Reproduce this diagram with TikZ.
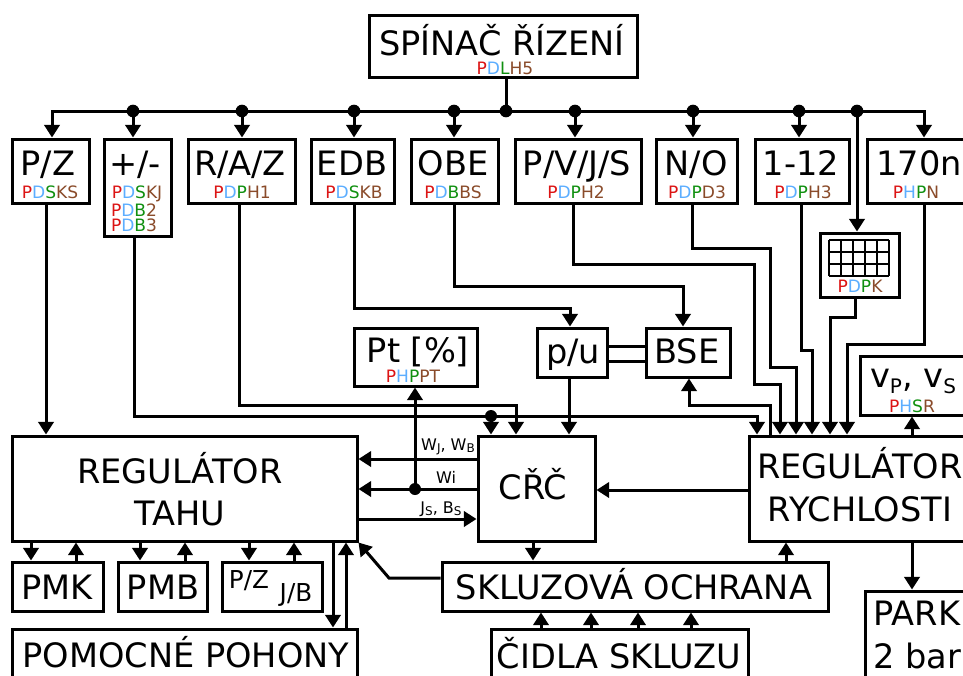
\documentclass[tikz,border=0pt]{standalone}
\usepackage{fontspec}
\setmainfont{DejaVu Sans}
\usetikzlibrary{arrows.meta}
\definecolor{cr}{HTML}{DC1414}
\definecolor{cb}{HTML}{5CAEFF}
\definecolor{cg}{HTML}{109010}
\definecolor{cn}{HTML}{8A4B2A}
\newdimen\pxu \pxu=.75pt
\newcommand\cd[4]{{\fontsize{12.8}{15}\selectfont\textcolor{cr}{#1}\textcolor{cb}{#2}\textcolor{cg}{#3}\textcolor{cn}{#4}}}
\newcommand\txl[3]{\makebox[0pt]{\hspace*{2\dimexpr#1\pxu-\cxx\pxu\relax}\raisebox{\dimexpr\cyy\pxu-#2\pxu\relax}[0pt][0pt]{#3}}}
\newcommand\bx[7][box]{%
  \pgfmathsetmacro\cxx{(#3+#5)/2}\pgfmathsetmacro\cyy{(#4+#6)/2}%
  \pgfmathsetmacro\bxw{#5-#3}\pgfmathsetmacro\bxh{#6-#4}%
  \node[#1,minimum width=\bxw*0.75pt,minimum height=\bxh*0.75pt] (#2) at (\cxx,\cyy) {#7};}
\newcommand\midt[1]{{\fontsize{18.5}{22}\selectfont #1}}
\newcommand\smt[1]{{\fontsize{12}{14}\selectfont #1}}
\newcommand\sbs[1]{\raisebox{-2.2pt}{\fontsize{9}{10}\selectfont #1}}
\tikzset{
  >={Triangle[length=9.5pt,width=11.5pt]},
  box/.style={draw=black,line width=2.25pt,inner sep=0pt,rectangle,font=\fontsize{25.2}{30}\selectfont},
  boxt/.style={box},
  conn/.style={draw=black,line width=2.25pt,->},
  plain/.style={draw=black,line width=2.25pt},
  busl/.style={conn},
  dotn/.style={circle,fill=black,inner sep=0pt,minimum size=9.5pt},
  lab/.style={anchor=base,inner sep=0pt}
}
\begin{document}
\begin{tikzpicture}[x=0.75pt,y=-0.75pt,line join=miter]
\useasboundingbox (0,0) rectangle (963,675);
\clip (0,0) rectangle (963,675);
\fill[white] (0,0) rectangle (963,675);

% boxes
\bx[boxt]{spin}{369}{15}{637}{77}{\txl{502}{55}{SPÍNAČ ŘÍZENÍ}\txl{505}{74}{\cd{P}{D}{L}{H5}}}
\bx[boxt]{pz}{12}{139}{89}{203}{\txl{48}{175}{P/Z}\txl{50}{198}{\cd{P}{D}{S}{KS}}}
\bx{pm}{104}{139}{171}{236}{\txl{135}{175}{+/-}\txl{137}{198}{\cd{P}{D}{S}{KJ}}\txl{134}{216}{\cd{P}{D}{B}{2}}\txl{134}{231}{\cd{P}{D}{B}{3}}}
\bx[boxt]{raz}{188}{139}{295}{203}{\txl{240}{175}{R/A/Z}\txl{242}{198}{\cd{P}{D}{P}{H1}}}
\bx[boxt]{edb}{311}{139}{394}{203}{\txl{352}{175}{EDB}\txl{354}{198}{\cd{P}{D}{S}{KB}}}
\bx[boxt]{obe}{411}{139}{498}{203}{\txl{453}{175}{OBE}\txl{453}{198}{\cd{P}{D}{B}{BS}}}
\bx[boxt]{pvjs}{515}{139}{641}{203}{\txl{577}{175}{P/V/J/S}\txl{576}{198}{\cd{P}{D}{P}{H2}}}
\bx[boxt]{no}{656}{139}{737}{203}{\txl{696}{175}{N/O}\txl{697}{198}{\cd{P}{D}{P}{D3}}}
\bx[boxt]{ot}{755}{139}{849}{203}{\txl{801}{175}{1-12}\txl{803}{198}{\cd{P}{D}{P}{H3}}}
\bx[boxt]{sn}{867}{139}{971}{203}{\txl{919}{175}{170n}\txl{916}{198}{\cd{P}{H}{P}{N}}}
\bx[boxt]{pdpk}{820}{233}{899}{297}{\txl{860}{292}{\cd{P}{D}{P}{K}}}
\bx{pu}{537}{328}{607}{377}{\txl{573}{363}{p/u}}
\bx{bse}{646}{328}{730}{377}{\txl{687}{363}{BSE}}
\bx{pt}{354}{328}{477}{386}{\txl{418}{362}{Pt [\%]}\txl{413}{382}{\cd{P}{H}{P}{PT}}}
\bx{vp}{860}{356}{966}{415}{\txl{913}{387}{v\raisebox{-5.2pt}{\fontsize{15}{18}\selectfont P}, v\raisebox{-5.2pt}{\fontsize{15}{18}\selectfont S}}\txl{912}{412}{\cd{P}{H}{S}{R}}}
\bx{rt}{12}{436}{357}{541}{\txl{180}{483}{REGULÁTOR}\txl{180}{525}{TAHU}}
\bx{crc}{478}{436}{595}{541}{\txl{533}{499}{CŘČ}}
\bx{rr}{749}{436}{971}{541}{\txl{860}{478}{REGULÁTOR}\txl{860}{521}{RYCHLOSTI}}
\bx{pmk}{12}{562}{103}{611}{\txl{57}{599}{PMK}}
\bx{pmb}{118}{562}{207}{611}{\txl{163}{599}{PMB}}
\bx{pzjb}{222}{562}{322}{611}{\txl{249}{588}{\midt{P/Z}}\txl{296}{601}{\midt{J/B}}}
\bx{pp}{12}{629}{357}{700}{\txl{186}{667}{POMOCNÉ POHONY}}
\bx{sk}{442}{562}{828}{611}{\txl{634}{599}{SKLUZOVÁ OCHRANA}}
\bx{ci}{491}{629}{748}{700}{\txl{619}{668}{ČIDLA SKLUZU}}
\bx{park}{865}{591}{970}{700}{\txl{917}{625}{PARK}\txl{917}{668}{2 bar}}

% grid in the PDPK box
\foreach \gx in {829,841,853,865,877,889} \draw[line width=.85pt] (\gx,240) -- (\gx,276);
\foreach \gy in {240,252,264,276} \draw[line width=.85pt] (829,\gy) -- (889,\gy);

% bus
\node[dotn] (d0) at (506,111) {};
\node[dotn] (d1) at (133,111) {};
\node[dotn] (d2) at (242,111) {};
\node[dotn] (d3) at (354,111) {};
\node[dotn] (d4) at (454,111) {};
\node[dotn] (d5) at (575,111) {};
\node[dotn] (d6) at (693,111) {};
\node[dotn] (d7) at (799,111) {};
\node[dotn] (d8) at (857,111) {};
\coordinate (bl) at (52,111);
\coordinate (br) at (924,111);
\draw[plain] (spin.south -| d0) -- (d0.center);
\draw[busl] (d0.center) -- (bl) -- (pz.north -| bl);
\draw[busl] (d0.center) -- (br) -- (sn.north -| br);
\draw[conn] (d1.center) -- (pm.north -| d1);
\draw[conn] (d2.center) -- (raz.north -| d2);
\draw[conn] (d3.center) -- (edb.north -| d3);
\draw[conn] (d4.center) -- (obe.north -| d4);
\draw[conn] (d5.center) -- (pvjs.north -| d5);
\draw[conn] (d6.center) -- (no.north -| d6);
\draw[conn] (d7.center) -- (ot.north -| d7);
\draw[conn] (d8.center) -- (pdpk.north -| d8);

% long connectors
\node[dotn,minimum size=9pt] (dq) at (491,416) {};
\node[dotn,minimum size=9pt] (dw) at (415,489) {};
\draw[conn] (pz.south -| 46,0) -- (rt.north -| 46,0);
\draw[conn] (pm.south -| 134,0) -- (134,416) -- (757,416) -- (rr.north -| 757,0);
\draw[conn] (dq.center) -- (crc.north -| dq);
\draw[conn] (raz.south -| 239,0) -- (239,405) -- (516,405) -- (crc.north -| 516,0);
\draw[conn] (edb.south -| 354,0) -- (354,308) -- (570,308) -- (pu.north -| 570,0);
\draw[conn] (obe.south -| 454,0) -- (454,286) -- (683,286) -- (bse.north -| 683,0);
\draw[conn] (pvjs.south -| 573,0) -- (573,264) -- (754,264) -- (754,384) -- (780,384) -- (rr.north -| 780,0);
\draw[conn] (no.south -| 692,0) -- (692,248) -- (770,248) -- (770,367) -- (796,367) -- (rr.north -| 796,0);
\draw[conn] (ot.south -| 801,0) -- (801,350) -- (812,350) -- (rr.north -| 812,0);
\draw[conn] (pdpk.south -| 855,0) -- (855,317) -- (830,317) -- (rr.north -| 830,0);
\draw[conn] (sn.south -| 924,0) -- (924,344) -- (847,344) -- (rr.north -| 847,0);
\draw[conn] (rr.north -| 770,0) -- (770,405) -- (689,405) -- (bse.south -| 689,0);
\draw[conn] (pu.south -| 569,0) -- (crc.north -| 569,0);
\draw[plain] (pu.east |- 0,346) -- (bse.west |- 0,346);
\draw[plain] (pu.east |- 0,361) -- (bse.west |- 0,361);
\draw[conn] (rr.west |- 0,490) -- (crc.east |- 0,490);
\draw[conn] (dw.center) -- (pt.south -| dw);
\draw[conn] (crc.west |- 0,459) -- (rt.east |- 0,459);
\draw[conn] (crc.west |- dw) -- (rt.east |- dw);
\draw[conn] (rt.east |- 0,519) -- (crc.west |- 0,519);
\draw[conn] (sk.west |- 0,578) -- (389,578) -- (rt.south east);
\draw[conn] (crc.south -| 533,0) -- (sk.north -| 533,0);
\draw[conn] (sk.north -| 786,0) -- (rr.south -| 786,0);
\draw[conn] (rr.north -| 912,0) -- (vp.south -| 912,0);
\draw[conn] (rr.south -| 912,0) -- (park.north -| 912,0);

% under the traction regulator
\draw[conn] (rt.south -| 31,0) -- (pmk.north -| 31,0);
\draw[conn] (pmk.north -| 76,0) -- (rt.south -| 76,0);
\draw[conn] (rt.south -| 140,0) -- (pmb.north -| 140,0);
\draw[conn] (pmb.north -| 185,0) -- (rt.south -| 185,0);
\draw[conn] (rt.south -| 249,0) -- (pzjb.north -| 249,0);
\draw[conn] (pzjb.north -| 294,0) -- (rt.south -| 294,0);
\draw[conn] (rt.south -| 333,0) -- (pp.north -| 333,0);
\draw[conn] (pp.north -| 346,0) -- (rt.south -| 346,0);

% sensors
\draw[conn] (ci.north -| 541,0) -- (sk.south -| 541,0);
\draw[conn] (ci.north -| 591,0) -- (sk.south -| 591,0);
\draw[conn] (ci.north -| 638,0) -- (sk.south -| 638,0);
\draw[conn] (ci.north -| 691,0) -- (sk.south -| 691,0);

% signal labels
\node[lab] (lw) at (448,450) {\smt{W\sbs{J}, W\sbs{B}}};
\node[lab] (li) at (446,483) {\smt{Wi}};
\node[lab] (lj) at (441,513) {\smt{J\sbs{S}, B\sbs{S}}};
\end{tikzpicture}
\end{document}
